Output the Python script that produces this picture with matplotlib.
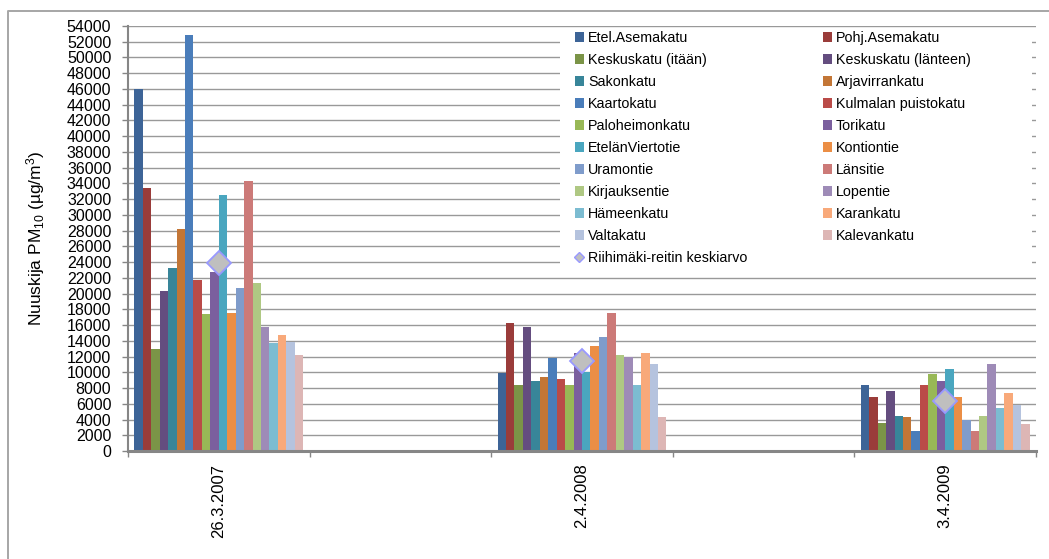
import numpy as np
import matplotlib
matplotlib.use("Agg")
import matplotlib.pyplot as plt
from matplotlib.lines import Line2D
from matplotlib.patches import Rectangle

plt.rcParams['font.family'] = ['Liberation Sans', 'DejaVu Sans']
plt.rcParams['mathtext.fontset'] = 'custom'
plt.rcParams['mathtext.rm'] = 'Liberation Sans'
plt.rcParams['mathtext.default'] = 'regular'

# Measurement dates (blank slots keep the spacing between campaigns)
categories = ['26.3.2007', '', '2.4.2008', '', '3.4.2009']

streets = [
    'Etel.Asemakatu', 'Pohj.Asemakatu', 'Keskuskatu (itään)', 'Keskuskatu (länteen)',
    'Sakonkatu', 'Arjavirrankatu', 'Kaartokatu', 'Kulmalan puistokatu',
    'Paloheimonkatu', 'Torikatu', 'EtelänViertotie', 'Kontiontie',
    'Uramontie', 'Länsitie', 'Kirjauksentie', 'Lopentie',
    'Hämeenkatu', 'Karankatu', 'Valtakatu', 'Kalevankatu',
]

values_2007 = [46000, 33400, 13000, 20300, 23300, 28200, 52900, 21700, 17400, 22700,
               32500, 17500, 20700, 34300, 21400, 15800, 13700, 14800, 13900, 12200]
values_2008 = [9900, 16300, 8400, 15800, 8900, 9400, 11800, 9100, 8400, 12400,
               10000, 13400, 14500, 17500, 12200, 11900, 8400, 12400, 11100, 4300]
values_2009 = [8400, 6800, 3600, 7600, 4500, 4300, 2600, 8400, 9800, 8900,
               10400, 6800, 4000, 2600, 4500, 11000, 5500, 7400, 5900, 3400]

category_values = [values_2007, None, values_2008, None, values_2009]

route_average = [23900, None, 11400, None, 6300]
average_label = 'Riihimäki-reitin keskiarvo'

colors = [
    '#3D6497', '#9A3C3A', '#7B9447', '#644D7F', '#388599', '#C37636',
    '#4A7DBA', '#BA4B48', '#98B856', '#7B5F9E', '#4AA6BF', '#EB8E45',
    '#7F9CCB', '#CC7A78', '#AFC883', '#9E8BB7', '#7CBCD1', '#F8A97A',
    '#B5C3DE', '#DDB6B5',
]

W, H = 1049, 559
fig = plt.figure(figsize=(W / 100, H / 100), dpi=100)
fig.patch.set_facecolor('white')

ax = fig.add_axes([128 / W, 1 - 451 / H, (1036 - 128) / W, (451 - 26) / H])

n_cat = len(categories)
n_ser = len(streets)
x = np.arange(n_cat)
group_w = 0.93
bar_w = group_w / n_ser

bars = []
for i, name in enumerate(streets):
    heights = [cv[i] if cv is not None else np.nan for cv in category_values]
    off = -group_w / 2 + bar_w * (i + 0.5)
    b = ax.bar(x + off, heights, width=bar_w, color=colors[i], label=name,
               linewidth=0, zorder=2)
    bars.append(b)

avg = [np.nan if v is None else v for v in route_average]
ax.plot(x, avg, linestyle='none', marker='D', markersize=12.5,
        markerfacecolor='#BFBFBF', markeredgecolor='#9999FF',
        markeredgewidth=1.3, zorder=5)

ax.set_xlim(-0.5, n_cat - 0.5)
ax.set_ylim(0, 54000)
ax.set_yticks(np.arange(0, 54001, 2000))
ax.set_yticklabels([str(v) for v in range(0, 54001, 2000)], fontsize=11.5)
ax.yaxis.grid(True, color='#999999', linewidth=1.0)
ax.set_axisbelow(True)

ax.set_xticks(np.arange(-0.5, n_cat, 1.0))
ax.set_xticklabels([])
ax.set_xticks(x, minor=True)
ax.set_xticklabels(categories, minor=True, rotation=90, fontsize=12,
                   va='top', ha='center')
ax.tick_params(axis='x', which='major', direction='out', length=4,
               width=1, color='#868686')
ax.tick_params(axis='x', which='minor', length=0, pad=9)
ax.tick_params(axis='y', direction='out', length=4, width=1,
               color='#868686', pad=8)

for s in ('top', 'right'):
    ax.spines[s].set_visible(False)
ax.spines['left'].set_color('#868686')
ax.spines['left'].set_linewidth(1.5)
ax.spines['bottom'].set_color('#868686')
ax.spines['bottom'].set_linewidth(2.2)

ax.set_ylabel('Nuuskija PM$_{10}$ (µg/m$^{3}$)', fontsize=12.5)
ax.yaxis.set_label_coords(-0.0892, 0.5)

# White legend panel over the gridlines
panel = Rectangle((560 / W, 1 - 272 / H), (1032 - 560) / W, (272 - 30) / H,
                  transform=fig.transFigure, facecolor='white',
                  edgecolor='none', zorder=3)
ax.add_patch(panel)

avg_handle = Line2D([], [], linestyle='none', marker='D', markersize=5.4,
                    markerfacecolor='#BFBFBF', markeredgecolor='#9999FF',
                    markeredgewidth=1.0)

left_handles = [bars[i] for i in range(0, n_ser, 2)] + [avg_handle]
left_labels = [streets[i] for i in range(0, n_ser, 2)] + [average_label]
right_handles = [bars[i] for i in range(1, n_ser, 2)]
right_labels = [streets[i] for i in range(1, n_ser, 2)]

leg_kw = dict(frameon=False, fontsize=10.3, handlelength=0.6,
              handleheight=0.7, handletextpad=0.3, labelspacing=0.56,
              borderpad=0, borderaxespad=0, loc='upper left')
leg1 = ax.legend(left_handles, left_labels,
                 bbox_to_anchor=(575 / W, 1 - 31 / H),
                 bbox_transform=fig.transFigure, **leg_kw)
leg1.set_zorder(6)
ax.add_artist(leg1)
leg2 = ax.legend(right_handles, right_labels,
                 bbox_to_anchor=(823 / W, 1 - 31 / H),
                 bbox_transform=fig.transFigure, **leg_kw)
leg2.set_zorder(6)

# Chart-area frame (left and top edges)
fig.add_artist(Line2D([8 / W, 8 / W, 1.0], [0.0, 1 - 11 / H, 1 - 11 / H],
                      transform=fig.transFigure, color='#A6A6A6',
                      linewidth=1.4))

fig.savefig('out.png', dpi=100)
